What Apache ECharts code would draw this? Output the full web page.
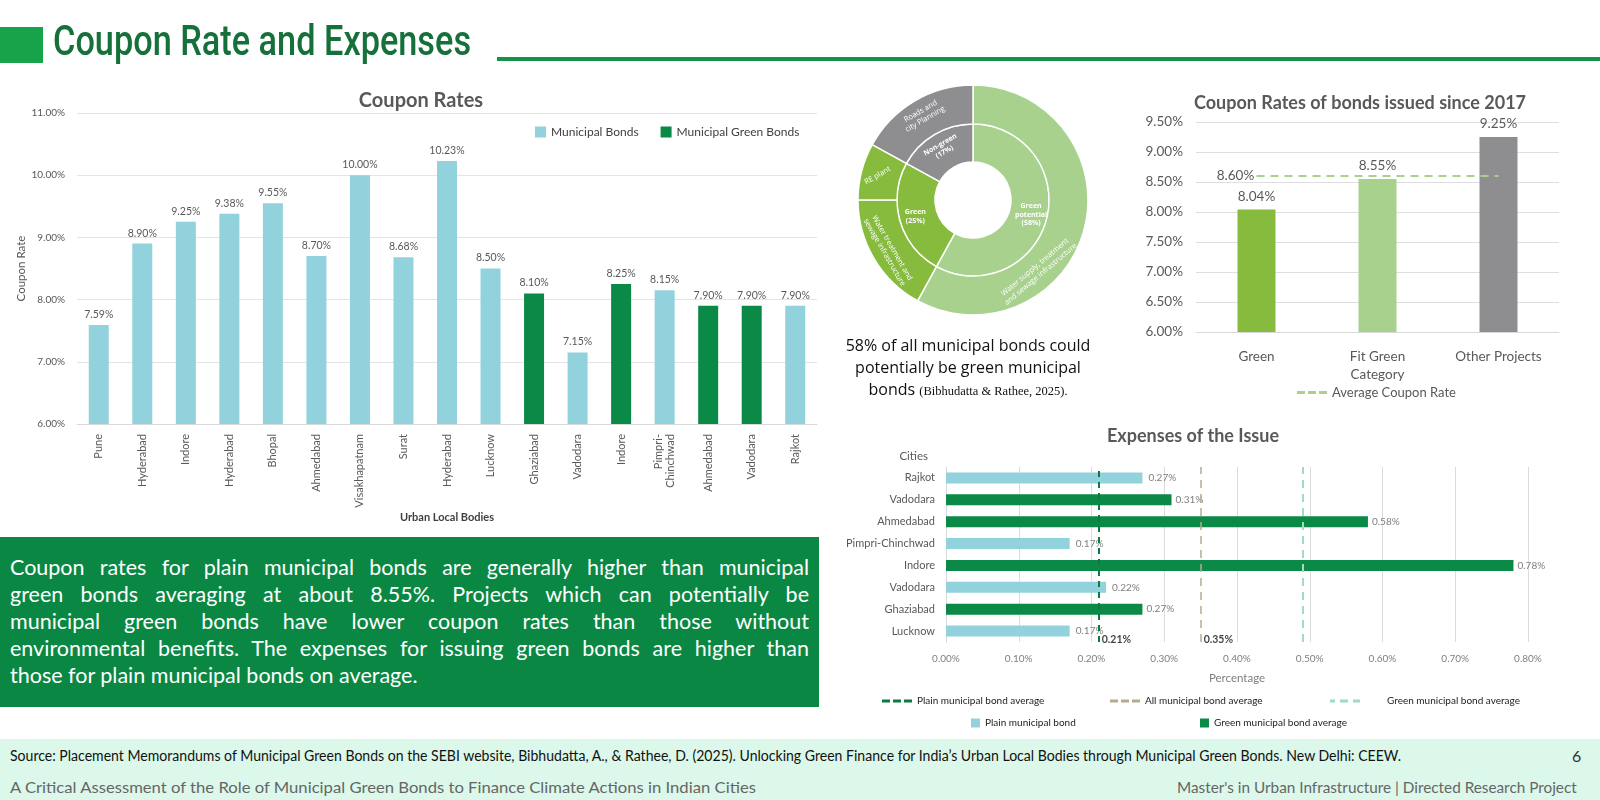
<!DOCTYPE html>
<html><head><meta charset="utf-8">
<script src="https://cdn.jsdelivr.net/npm/echarts@6/dist/echarts.min.js"></script>
<style>
html,body{margin:0;padding:0;width:1600px;height:800px;overflow:hidden;background:#fff;}
#chart{position:absolute;left:0;top:0;width:1600px;height:800px;}
.abs{position:absolute;white-space:nowrap;}
.para div{text-align:justify;text-align-last:justify;white-space:nowrap;}
.para div.last{text-align-last:left;}
</style></head><body>
<div id="chart"></div>
<div class="abs" style="left:0;top:27px;width:43px;height:36px;background:#17a34a"></div>
<div id="ttl" class="abs" style="left:53px;top:16px;font:500 42px Roboto,sans-serif;color:#16703a;transform-origin:left top">Coupon Rate and Expenses</div>
<div class="abs" style="left:497px;top:57px;width:1103px;height:4px;background:#16914a"></div>

<div class="abs" style="left:838px;top:334px;width:260px;text-align:center;font:16px 'Open Sans',sans-serif;color:#111;line-height:22px;white-space:normal">58% of all municipal bonds could potentially be green municipal bonds <span style="font:12.5px 'Liberation Serif',serif">(Bibhudatta &amp; Rathee, 2025).</span></div>

<div class="abs para" style="left:0;top:537px;width:819px;height:170px;background:#0a8843;color:#fff;font:21.5px Lato,sans-serif;line-height:27px;box-sizing:border-box;padding:17px 10px 0 10px">
<div>Coupon rates for plain municipal bonds are generally higher than municipal</div>
<div>green bonds averaging at about 8.55%. Projects which can potentially be</div>
<div>municipal green bonds have lower coupon rates than those without</div>
<div>environmental benefits. The expenses for issuing green bonds are higher than</div>
<div class="last">those for plain municipal bonds on average.</div>
</div>

<div class="abs" style="left:0;top:739px;width:1600px;height:61px;background:#dcf8eb"></div>
<div id="src" class="abs" style="left:10px;top:747px;font:14.5px Lato,sans-serif;color:#111;transform-origin:left top">Source: Placement Memorandums of Municipal Green Bonds on the SEBI website, Bibhudatta, A., &amp; Rathee, D. (2025). Unlocking Green Finance for India’s Urban Local Bodies through Municipal Green Bonds. New Delhi: CEEW.</div>
<div class="abs" style="left:1572px;top:746px;font:16px Lato,sans-serif;color:#333">6</div>
<div id="foot1" class="abs" style="left:10px;top:778px;font:15px Lato,sans-serif;color:#666;transform-origin:left top">A Critical Assessment of the Role of Municipal Green Bonds to Finance Climate Actions in Indian Cities</div>
<div id="foot2" class="abs" style="right:23px;top:778px;font:15px Lato,sans-serif;color:#666;transform-origin:right top">Master's in Urban Infrastructure | Directed Research Project</div>

<script>
// ---- Coupon Rates (left) ----
const couponCities = ['Pune','Hyderabad','Indore','Hyderabad','Bhopal','Ahmedabad','Visakhapatnam','Surat','Hyderabad','Lucknow','Ghaziabad','Vadodara','Indore','Pimpri-\nChinchwad','Ahmedabad','Vadodara','Rajkot'];
const municipalBonds      = [7.59,8.90,9.25,9.38,9.55,8.70,10.00,8.68,10.23,8.50,null,7.15,null,8.15,null,null,7.90];
const municipalGreenBonds = [null,null,null,null,null,null,null,null,null,null,8.10,null,8.25,null,7.90,7.90,null];
const couponAxis = {min:6, max:11, interval:1};

// ---- Coupon Rates of bonds issued since 2017 ----
const sinceCats = ['Green','Fit Green\nCategory','Other Projects'];
const sinceRates = [8.04, 8.55, 9.25];
const averageCoupon = 8.60;
const sinceAxis = {min:6, max:9.5, interval:0.5};

// ---- Donut ----
const innerNames = ['Green\npotential\n(58%)','Green\n(25%)','Non-green\n(17%)'];
const innerShares = [58, 25, 17];
const outerNames = ['Water supply, treatment\nand sewage infrastructure','Water treatment and\nsewage infrastructure','RE plant','Roads and\ncity Planning'];
const outerShares = [58, 17, 8, 17];

// ---- Expenses of the Issue (listed bottom to top) ----
const expenseCities = ['Lucknow','Ghaziabad','Vadodara','Indore','Pimpri-Chinchwad','Ahmedabad','Vadodara','Rajkot'];
const plainExpense = [0.17,null,0.22,null,0.17,null,null,0.27];
const greenExpense = [null,0.27,null,0.78,null,0.58,0.31,null];
const plainAvg = 0.21, allAvg = 0.35, greenAvg = 0.49;
const expenseAxis = {min:0, max:0.8, interval:0.1};

// fit slide text widths (fonts differ from the original deck)
function fit(id, w){ const el=document.getElementById(id); el.style.transform='scaleX('+(w/el.offsetWidth)+')'; }
fit('ttl', 418); fit('src', 1391); fit('foot1', 746); fit('foot2', 400);

const TEAL = '#92d2dc', DGREEN = '#0a8a46';
const LG = '#a9d18e', MG = '#86bb3e', GRAY = '#8e8e91';
const pct = v => v.toFixed(2) + '%';
const dashIcon = 'path://M0,0H8V3H0Z M11,0H19V3H11Z M22,0H30V3H22Z';
const dotIcon = 'path://M0,0H5V3H0Z M10,0H18V3H10Z M23,0H30V3H23Z';
const SMALL = {fontSize:10, color:'#222'};

// donut geometry
const PIE_C = [973, 200];
// place the long outer label further along its ring (as in the original figure)
const outerLabelAngle = 137.5 * Math.PI / 180, outerLabelR = 96;

const chart = echarts.init(document.getElementById('chart'));
const option = {
  animation: false,
  textStyle: {fontFamily: 'Lato, sans-serif'},
  title: [
    {text:'Coupon Rates', left:416, top:86, textAlign:'center', textStyle:{fontSize:20, fontWeight:'bold', color:'#595959'}},
    {text:'Coupon Rates of bonds issued since 2017', left:1355, top:89, textAlign:'center', textStyle:{fontSize:18, fontWeight:'bold', color:'#595959'}},
    {text:'Expenses of the Issue', left:1188, top:422, textAlign:'center', textStyle:{fontSize:18, fontWeight:'bold', color:'#595959'}}
  ],
  legend: [
    {data:['Municipal Bonds','Municipal Green Bonds'], left:530, top:121, icon:'rect', itemWidth:11, itemHeight:11, itemGap:22, textStyle:{fontSize:12, color:'#404040'}},
    {data:[{name:'Average Coupon Rate', icon:dashIcon}], left:1292, top:381, itemWidth:30, itemHeight:3, textStyle:{fontSize:13, color:'#595959'}},
    {data:[{name:'Plain municipal bond average', icon:dashIcon}], left:877, top:691, itemWidth:30, itemHeight:3, textStyle:SMALL},
    {data:[{name:'All municipal bond average', icon:dashIcon}], left:1105, top:691, itemWidth:30, itemHeight:3, textStyle:SMALL},
    {data:[{name:'Green municipal bond average', icon:dotIcon}], left:1325, top:691, itemWidth:34, itemHeight:3, textStyle:Object.assign({padding:[0,0,0,20]}, SMALL)},
    {data:['Plain municipal bond'], left:966, top:713, icon:'rect', itemWidth:9, itemHeight:9, textStyle:SMALL},
    {data:['Green municipal bond'], left:1195, top:713, icon:'rect', itemWidth:9, itemHeight:9, formatter:()=> 'Green municipal bond average', textStyle:SMALL}
  ],
  grid: [
    {left:77, right:783, top:113, bottom:376},
    {left:1196, right:41, top:122, bottom:468},
    {left:946, right:72, top:467, bottom:158}
  ],
  xAxis: [
    {gridIndex:0, type:'category', data:couponCities, axisTick:{show:false},
     axisLine:{lineStyle:{color:'#d9d9d9'}},
     axisLabel:{rotate:90, interval:0, fontSize:11, color:'#595959', margin:10, lineHeight:12},
     name:'Urban Local Bodies', nameLocation:'middle', nameGap:76, nameTextStyle:{fontSize:11, fontWeight:'bold', color:'#404040'}},
    {gridIndex:1, type:'category', data:sinceCats, axisTick:{show:false},
     axisLine:{lineStyle:{color:'#d9d9d9'}},
     axisLabel:{fontSize:13.5, color:'#595959', margin:16, lineHeight:18}},
    {gridIndex:2, type:'value', min:expenseAxis.min, max:expenseAxis.max, interval:expenseAxis.interval,
     axisLabel:{formatter:pct, fontSize:10, color:'#7f7f7f', margin:12},
     splitLine:{lineStyle:{color:'#dcdcdc'}},
     name:'Percentage', nameLocation:'middle', nameGap:30, nameTextStyle:{fontSize:11.5, color:'#7f7f7f'}}
  ],
  yAxis: [
    {gridIndex:0, type:'value', min:couponAxis.min, max:couponAxis.max, interval:couponAxis.interval,
     axisLabel:{formatter:pct, fontSize:10, color:'#595959', margin:12},
     splitLine:{lineStyle:{color:'#e4e4e4'}},
     name:'Coupon Rate', nameLocation:'middle', nameGap:42, nameTextStyle:{fontSize:11.5, color:'#595959'}},
    {gridIndex:1, type:'value', min:sinceAxis.min, max:sinceAxis.max, interval:sinceAxis.interval,
     axisLabel:{formatter:pct, fontSize:13.5, color:'#595959', margin:13},
     splitLine:{lineStyle:{color:'#dedede'}}},
    {gridIndex:2, type:'category', data:expenseCities, axisTick:{show:false},
     axisLine:{lineStyle:{color:'#d9d9d9'}},
     axisLabel:{fontSize:11, color:'#595959', margin:11},
     name:'Cities', nameLocation:'end', nameGap:5, nameTextStyle:{fontSize:11.5, color:'#595959', align:'right', padding:[0,18,0,0]}}
  ],
  series: [
    {name:'Municipal Bonds', type:'bar', xAxisIndex:0, yAxisIndex:0, data:municipalBonds, barWidth:20, barGap:'-100%',
     itemStyle:{color:TEAL}, label:{show:true, position:'top', formatter:p=>pct(p.value), fontSize:10.5, color:'#595959'}},
    {name:'Municipal Green Bonds', type:'bar', xAxisIndex:0, yAxisIndex:0, data:municipalGreenBonds, barWidth:20, barGap:'-100%',
     itemStyle:{color:DGREEN}, label:{show:true, position:'top', formatter:p=>pct(p.value), fontSize:10.5, color:'#595959'}},
    {name:'Since 2017', type:'bar', xAxisIndex:1, yAxisIndex:1, barWidth:38,
     data:sinceRates.map((v,i)=>({value:v, itemStyle:{color:[MG,LG,GRAY][i]}})),
     label:{show:true, position:'top', formatter:p=>pct(p.value), fontSize:13.5, color:'#595959', distance:6}},
    {name:'Average Coupon Rate', type:'line', xAxisIndex:1, yAxisIndex:1, color:LG,
     data:sinceCats.map((c,i)=> i===0 ? {value:averageCoupon, label:{show:true}} : averageCoupon),
     symbol:'circle', symbolSize:0.5, showSymbol:true, itemStyle:{color:LG}, lineStyle:{type:[8,6], width:2, color:LG},
     label:{show:false, position:'left', distance:2, formatter:p=>pct(p.value), fontSize:13.5, color:'#595959'}},
    {name:'Share inner', type:'pie', center:PIE_C, radius:[38,76], startAngle:90, clockwise:true,
     avoidLabelOverlap:false, silent:true, labelLine:{show:false}, labelLayout:{hideOverlap:false},
     itemStyle:{borderColor:'#fff', borderWidth:1.5},
     label:{show:true, position:'inside', formatter:'{b}', color:'#fff', fontSize:7, fontWeight:'bold', lineHeight:8.5, fontFamily:'Open Sans, sans-serif'},
     data:innerNames.map((n,i)=>({name:n, value:innerShares[i], itemStyle:{color:[LG,MG,GRAY][i]}, label:{rotate:[0,0,30][i]}}))},
    {name:'Share outer', type:'pie', center:PIE_C, radius:[76,115], startAngle:90, clockwise:true,
     avoidLabelOverlap:false, silent:true, labelLine:{show:false},
     labelLayout: p => p.dataIndex === 0
       ? {x: PIE_C[0] + outerLabelR*Math.sin(outerLabelAngle), y: PIE_C[1] - outerLabelR*Math.cos(outerLabelAngle), rotate:40, align:'center', verticalAlign:'middle', hideOverlap:false}
       : {hideOverlap:false},
     itemStyle:{borderColor:'#fff', borderWidth:1.5},
     label:{show:true, position:'inside', formatter:'{b}', color:'#fff', fontSize:7.5, lineHeight:9, fontFamily:'Open Sans, sans-serif'},
     data:outerNames.map((n,i)=>({name:n, value:outerShares[i], itemStyle:{color:[LG,MG,MG,GRAY][i]},
       label:{rotate:[40,-60,30,30][i]}}))},
    {name:'Plain municipal bond', type:'bar', xAxisIndex:2, yAxisIndex:2, data:plainExpense, barWidth:11, barGap:'-100%',
     itemStyle:{color:TEAL}, label:{show:true, position:'right', formatter:p=>pct(p.value), fontSize:10, color:'#7f7f7f', distance:6}},
    {name:'Green municipal bond', type:'bar', xAxisIndex:2, yAxisIndex:2, data:greenExpense, barWidth:11, barGap:'-100%',
     itemStyle:{color:DGREEN}, label:{show:true, position:'right', formatter:p=>pct(p.value), fontSize:10, color:'#7f7f7f', distance:4}},
    {name:'Plain municipal bond average', type:'line', xAxisIndex:2, yAxisIndex:2, data:[], color:'#0b7a3e',
     markLine:{silent:true, symbol:'none', label:{show:false}, lineStyle:{type:[6,5], width:2, color:'#0b7a3e'}, data:[{xAxis:plainAvg}]}},
    {name:'All municipal bond average', type:'line', xAxisIndex:2, yAxisIndex:2, data:[], color:'#b8aa90',
     markLine:{silent:true, symbol:'none', label:{show:false}, lineStyle:{type:[8,6], width:1.5, color:'#b8aa90'}, data:[{xAxis:allAvg}]}},
    {name:'Green municipal bond average', type:'line', xAxisIndex:2, yAxisIndex:2, data:[], color:'#9fdcc0',
     markLine:{silent:true, symbol:'none', label:{show:false}, lineStyle:{type:[8,6], width:2, color:'#9fdcc0'}, data:[{xAxis:greenAvg}]}},
    {name:'Average labels', type:'scatter', xAxisIndex:2, yAxisIndex:2, symbolSize:0, silent:true,
     data:[[plainAvg,0],[allAvg,0]],
     label:{show:true, position:'right', distance:3, offset:[0,9], formatter:p=>pct(p.value[0]), fontSize:10.5, fontWeight:'bold', color:'#111'}}
  ]
};
chart.setOption(option);
</script>
</body></html>
